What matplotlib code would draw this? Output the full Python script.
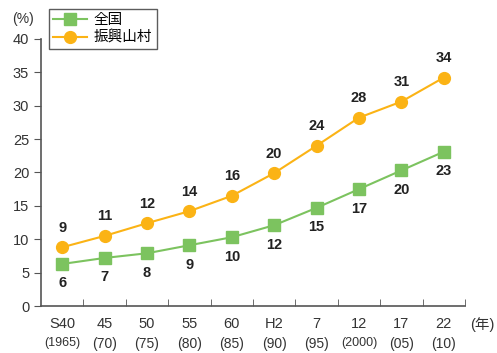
import matplotlib.pyplot as plt

plt.rcParams['font.family'] = ['Liberation Sans', 'Noto Sans CJK JP', 'DejaVu Sans']

periods = ['S40', '45', '50', '55', '60', 'H2', '7', '12', '17', '22']
years = ['(1965)', '(70)', '(75)', '(80)', '(85)', '(90)', '(95)', '(2000)', '(05)', '(10)']
national = [6.3, 7.2, 7.9, 9.1, 10.3, 12.1, 14.7, 17.5, 20.3, 23.1]
national_labels = [6, 7, 8, 9, 10, 12, 15, 17, 20, 23]
mountain = [8.8, 10.5, 12.4, 14.2, 16.5, 19.9, 24.0, 28.2, 30.6, 34.2]
mountain_labels = [9, 11, 12, 14, 16, 20, 24, 28, 31, 34]

green = '#7cc35f'
orange = '#fbb315'
grey = '#555555'

fig = plt.figure(figsize=(4.97, 3.53), dpi=100)
ax = fig.add_axes([0.0825, 0.133, 0.853, 0.757])

x = list(range(len(periods)))
ax.plot(x, national, color=green, lw=1.5, marker='s', ms=8.5, label='全国')
ax.plot(x, mountain, color=orange, lw=1.5, marker='o', ms=8.5, label='振興山村')

for i in x:
    ax.annotate(str(mountain_labels[i]), (i, mountain[i]), xytext=(0, 9),
                textcoords='offset points', ha='center', va='bottom',
                fontsize=10.5, fontweight='bold', color='#222222')
    ax.annotate(str(national_labels[i]), (i, national[i]), xytext=(0, -9),
                textcoords='offset points', ha='center', va='top',
                fontsize=10.5, fontweight='bold', color='#222222')

ax.set_xlim(-0.5, 9.5)
ax.set_ylim(0, 40)
ax.set_yticks(range(0, 41, 5))
ax.set_xticks(x)
ax.set_xticklabels(periods)
ax.set_xticks([i + 0.5 for i in range(len(periods))], minor=True)
ax.tick_params(axis='x', which='major', length=0, pad=8, labelsize=10.5, colors='#333333')
ax.tick_params(axis='x', which='minor', direction='in', length=5, color=grey)
ax.tick_params(axis='y', direction='out', length=5, color=grey, labelsize=10.5, labelcolor='#333333')

for i, yr in enumerate(years):
    ax.text(i, -0.115, yr, transform=ax.get_xaxis_transform(), ha='center', va='top',
            fontsize=10 if len(yr) < 5 else 9, color='#333333')

for side in ['top', 'right']:
    ax.spines[side].set_visible(False)
for side in ['left', 'bottom']:
    ax.spines[side].set_color(grey)
    ax.spines[side].set_linewidth(1.2)

fig.text(0.025, 0.945, '(%)', fontsize=10, color='#333333', va='center')
fig.text(0.945, 0.08, '(年)', fontsize=10.5, color='#333333', va='center')

leg = fig.legend(loc='upper left', bbox_to_anchor=(0.098, 0.975), frameon=True,
                 fancybox=False, edgecolor='#333333', fontsize=10.5,
                 handlelength=2.3, handletextpad=0.5, borderpad=0.3,
                 labelspacing=0.25, borderaxespad=0)
leg.get_frame().set_linewidth(1.0)

fig.savefig('out.png', dpi=100)
